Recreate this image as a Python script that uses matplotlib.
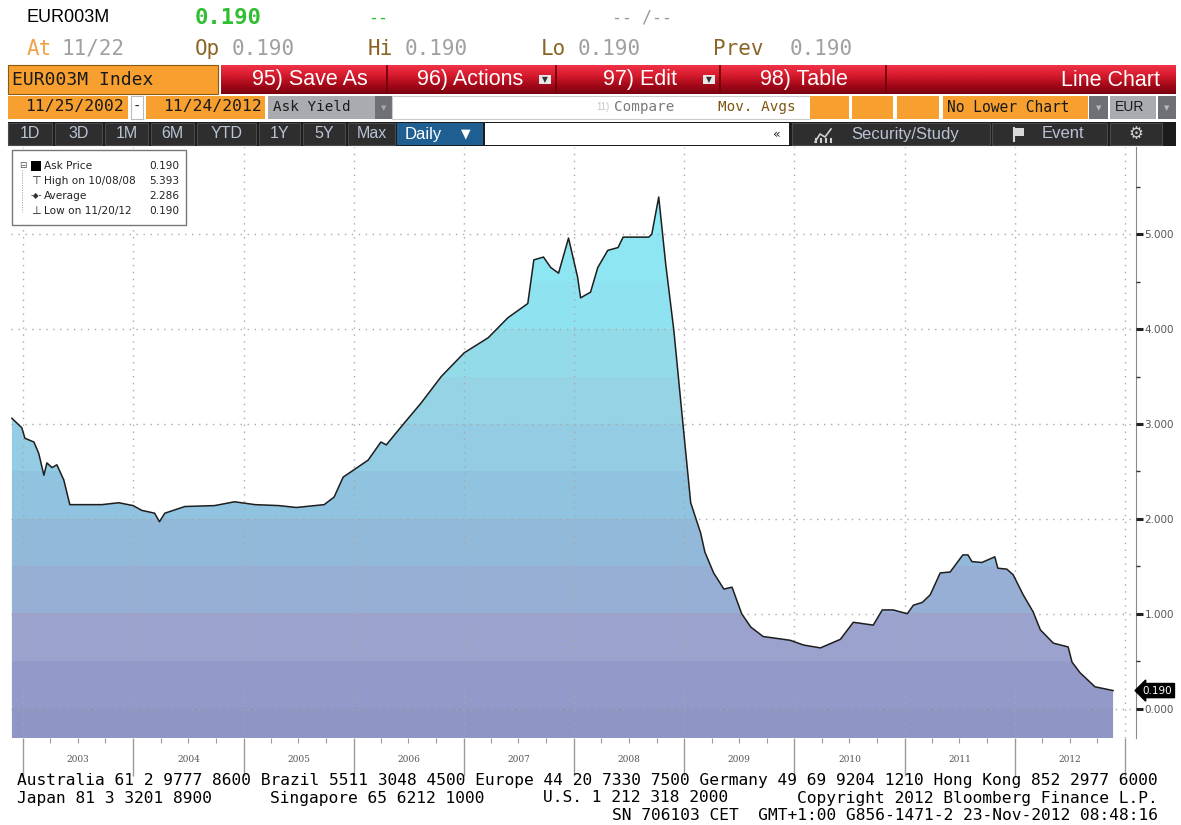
import numpy as np
import matplotlib.pyplot as plt
import matplotlib.dates as mdates
from matplotlib.patches import Rectangle
from matplotlib.colors import LinearSegmentedColormap
from matplotlib.ticker import MultipleLocator, FormatStrFormatter

# === DATOS ===
dates = [
    '2002-11-25', '2002-12-28', '2003-01-07', '2003-02-06', '2003-02-22', '2003-03-11',
    '2003-03-21', '2003-04-07', '2003-04-23', '2003-05-16', '2003-06-05', '2003-09-19',
    '2003-11-14', '2004-01-01', '2004-01-29', '2004-03-12', '2004-03-28', '2004-04-15',
    '2004-06-20', '2004-09-27', '2004-12-02', '2005-02-08', '2005-04-27', '2005-06-25',
    '2005-09-25', '2005-10-28', '2005-11-27', '2006-01-03', '2006-02-18', '2006-04-01',
    '2006-04-19', '2006-06-07', '2006-08-12', '2006-10-18', '2007-01-02', '2007-03-23',
    '2007-05-27', '2007-08-01', '2007-08-21', '2007-09-22', '2007-10-16', '2007-11-11',
    '2007-12-14', '2008-01-13', '2008-01-23', '2008-02-25', '2008-03-20', '2008-04-22',
    '2008-05-26', '2008-06-12', '2008-09-05', '2008-09-15', '2008-10-08', '2008-10-31',
    '2008-11-27', '2008-12-27', '2009-01-22', '2009-02-24', '2009-03-10', '2009-04-08',
    '2009-05-12', '2009-06-08', '2009-07-10', '2009-08-09', '2009-09-19', '2009-12-18',
    '2010-01-31', '2010-03-28', '2010-06-02', '2010-07-15', '2010-09-19', '2010-10-19',
    '2010-11-24', '2011-01-10', '2011-01-30', '2011-03-01', '2011-03-27', '2011-04-29',
    '2011-06-01', '2011-07-13', '2011-07-30', '2011-08-12', '2011-09-14', '2011-10-27',
    '2011-11-06', '2011-12-06', '2011-12-27', '2012-01-29', '2012-03-02', '2012-03-26',
    '2012-05-08', '2012-06-26', '2012-07-09', '2012-08-04', '2012-09-23', '2012-11-22',
]
ask_yield = [
    3.06, 2.96, 2.85, 2.81, 2.69, 2.46,
    2.59, 2.54, 2.57, 2.41, 2.15, 2.15,
    2.17, 2.14, 2.09, 2.06, 1.97, 2.06,
    2.13, 2.14, 2.18, 2.15, 2.14, 2.12,
    2.15, 2.23, 2.44, 2.52, 2.62, 2.81,
    2.78, 2.97, 3.22, 3.50, 3.75, 3.91,
    4.12, 4.27, 4.73, 4.76, 4.65, 4.59,
    4.96, 4.55, 4.33, 4.39, 4.65, 4.83,
    4.86, 4.97, 4.97, 5.00, 5.393, 4.69,
    3.99, 3.01, 2.17, 1.85, 1.65, 1.43,
    1.26, 1.28, 1.00, 0.86, 0.76, 0.72,
    0.67, 0.64, 0.73, 0.91, 0.88, 1.04,
    1.04, 1.00, 1.09, 1.12, 1.20, 1.43,
    1.44, 1.62, 1.62, 1.55, 1.54, 1.60,
    1.48, 1.47, 1.41, 1.20, 1.02, 0.83,
    0.69, 0.65, 0.49, 0.38, 0.23, 0.19,
]
years = [2003, 2004, 2005, 2006, 2007, 2008, 2009, 2010, 2011, 2012]
legend_names = ['Ask Price', 'High on 10/08/08', 'Average', 'Low on 11/20/12']
legend_values = ['0.190', '5.393', '2.286', '0.190']
last_value = 0.190

# === FIGURA ===
W, H = 1181, 825
fig = plt.figure(figsize=(W / 100, H / 100), dpi=100, facecolor='white')

# === GRÁFICO PRINCIPAL ===
ax = fig.add_axes([11 / W, 1 - 738 / H, (1136 - 11) / W, (738 - 147) / H], zorder=1)
xn = mdates.date2num(np.array(dates, dtype='datetime64[D]'))
x0 = mdates.date2num(np.datetime64('2002-11-22'))
x1 = mdates.date2num(np.datetime64('2013-02-06'))
y0, y1 = -0.31, 5.92

band_cmap = LinearSegmentedColormap.from_list('bbg', [
    (0.00, '#8f95c4'), (0.08, '#949ac9'), (0.15, '#9ba2cd'), (0.23, '#98aed5'),
    (0.31, '#93badb'), (0.38, '#8fc3df'), (0.46, '#93cce3'), (0.54, '#96d4e6'),
    (0.62, '#93dcea'), (0.69, '#90e3f0'), (0.77, '#8ee7f4'), (0.85, '#8cebf7'),
    (1.00, '#8aedf8')])
yy = np.linspace(y0, y1, 800)
bands = np.floor(yy / 0.5) * 0.5
img = ax.imshow(bands[:, None], extent=[x0, x1, y0, y1], origin='lower', aspect='auto',
                cmap=band_cmap, vmin=-0.5, vmax=6.0, interpolation='nearest', zorder=1)
poly = ax.fill_between(xn, ask_yield, y0 - 1, color='none', lw=0)
img.set_clip_path(poly.get_paths()[0], transform=ax.transData)
ax.plot(xn, ask_yield, color='#1e1e1e', lw=1.1, zorder=3)

ax.set_xlim(x0, x1)
ax.set_ylim(y0, y1)
ax.set_facecolor('white')
ax.grid(True, which='major', linestyle=(0, (1, 4)), color='#a8a8a8', lw=1)
ax.set_axisbelow(False)

ax.xaxis.set_major_locator(mdates.YearLocator())
ax.xaxis.set_minor_locator(mdates.MonthLocator(bymonth=[4, 7, 10]))
ax.tick_params(axis='x', which='major', direction='out', length=27, width=1,
               color='#9a9a9a', labelbottom=False)
ax.tick_params(axis='x', which='minor', direction='out', length=3.5, width=0.8, color='#9a9a9a')
for yr in years:
    ax.text(mdates.date2num(np.datetime64(f'{yr}-07-02')), -0.037, str(yr),
            transform=ax.get_xaxis_transform(), ha='center', va='center',
            fontsize=6.5, color='#555555', family='DejaVu Serif')

ax.yaxis.tick_right()
ax.yaxis.set_major_locator(MultipleLocator(1))
ax.yaxis.set_minor_locator(MultipleLocator(0.5))
ax.yaxis.set_major_formatter(FormatStrFormatter('%.3f'))
ax.tick_params(axis='y', which='major', direction='out', length=5, width=2.2,
               color='#222222', labelsize=7.5, labelcolor='#555555', pad=1)
ax.tick_params(axis='y', which='minor', direction='out', length=3, width=1, color='#333333')
for side in ['left', 'top', 'bottom']:
    ax.spines[side].set_visible(False)
ax.spines['right'].set_color('#8a8a8a')

ax.text(1.006, last_value, f'{last_value:.3f}', transform=ax.get_yaxis_transform(),
        ha='left', va='center', fontsize=7.5, color='white', zorder=6, clip_on=False,
        bbox=dict(boxstyle='larrow,pad=0.2', fc='black', ec='black'))

# === CABECERA / INTERFAZ (coordenadas en píxeles) ===
hdr = fig.add_axes([0, 0, 1, 1], zorder=5)
hdr.patch.set_visible(False)
hdr.axis('off')


def box(xa, ya, xb, yb, fc, ec='none', lw=0.8):
    hdr.add_patch(Rectangle((xa, ya), xb - xa, yb - ya, fc=fc, ec=ec, lw=lw))


def txt(x, y, s, size, color, ha='left', family='DejaVu Sans Mono', weight='normal'):
    hdr.text(x, y, s, fontsize=size, color=color, ha=ha, va='center',
             family=family, weight=weight)


sans = 'Liberation Sans'

# fila 1 y 2
txt(27, 18, 'EUR003M', 13, 'black', family=sans)
txt(195, 18, '0.190', 16, '#2fbe2f', weight='bold')
txt(368, 18, '--', 12, '#2fbe2f')
txt(612, 18, '-- /--', 12, '#999999')
txt(27, 49, 'At', 15, '#f0a24a')
txt(62, 49, '11/22', 15, '#a0a0a0')
txt(195, 49, 'Op', 15, '#8a6526')
txt(232, 49, '0.190', 15, '#a0a0a0')
txt(368, 49, 'Hi', 15, '#8a6526')
txt(405, 49, '0.190', 15, '#a0a0a0')
txt(541, 49, 'Lo', 15, '#8a6526')
txt(578, 49, '0.190', 15, '#a0a0a0')
txt(713, 49, 'Prev', 15, '#8a6526')
txt(790, 49, '0.190', 15, '#a0a0a0')

# fila 3: barra roja
box(8, 65, 218, 94, '#f7a030', ec='#8a5a10')
txt(12, 80, 'EUR003M Index', 13, '#1a1a1a')
grad = np.linspace(0, 1, 60)[:, None]
red_cmap = LinearSegmentedColormap.from_list('red', ['#f03246', '#d81c2e', '#a80a1a', '#7a0010'])
hdr.imshow(grad, extent=[221, 1176, 94, 65], origin='upper', aspect='auto', cmap=red_cmap, zorder=0)
for xs in [387, 556, 720, 886]:
    hdr.plot([xs, xs], [66, 93], color='#6a0008', lw=1.2)
txt(252, 79, '95) Save As', 15.5, 'white', family=sans)
txt(417, 79, '96) Actions', 15.5, 'white', family=sans)
txt(603, 79, '97) Edit', 15.5, 'white', family=sans)
txt(760, 79, '98) Table', 15.5, 'white', family=sans)
txt(1160, 80, 'Line Chart', 15.5, 'white', ha='right', family=sans)
for xd in [539, 703]:
    box(xd, 75, xd + 12, 84, '#e8e8e8')
    txt(xd + 6, 80, '▼', 5.5, '#333333', ha='center', family='DejaVu Sans')

# fila 4: fechas y opciones
box(8, 96, 128, 119, '#f7a030')
txt(25, 107, '11/25/2002', 11.8, '#1a1a1a')
box(131, 96, 143, 119, 'white', ec='#bbbbbb')
txt(137, 107, '-', 10, '#1a1a1a', ha='center')
box(146, 96, 265, 119, '#f7a030')
txt(163, 107, '11/24/2012', 11.8, '#1a1a1a')
box(268, 96, 375, 119, '#a9abb0')
txt(273, 107, 'Ask Yield', 10.3, '#1a1a1a')
box(375, 96, 392, 119, '#6e7075')
txt(383.5, 108, '▼', 5, '#aaaaaa', ha='center', family='DejaVu Sans')
box(392, 96, 810, 119, 'white', ec='#cccccc')
txt(596, 107, '11)', 7, '#c8c8c8', family=sans)
txt(614, 107, 'Compare', 10.3, '#7a7a7a')
txt(718, 107, 'Mov. Avgs', 10.3, '#7a5510')
for xa, xb in [(810, 849), (852, 893), (897, 939)]:
    box(xa, 96, xb, 119, '#f7a030')
box(943, 96, 1088, 119, '#f7a030')
txt(947, 107, 'No Lower Chart', 10.5, '#1a1a1a')
box(1089, 96, 1108, 119, '#6e7075')
txt(1098.5, 108, '▼', 5, '#bbbbbb', ha='center', family='DejaVu Sans')
box(1110, 96, 1156, 119, '#a9abb0')
txt(1115, 107, 'EUR', 10, '#1a1a1a', family=sans)
box(1158, 96, 1176, 119, '#6e7075')
txt(1167, 108, '▼', 5, '#bbbbbb', ha='center', family='DejaVu Sans')

# fila 5: botones
box(8, 122, 1176, 146, '#1c1c1c')
buttons = [('1D', 8, 52), ('3D', 55, 102), ('1M', 105, 148), ('6M', 151, 194),
           ('YTD', 197, 256), ('1Y', 259, 300), ('5Y', 303, 345), ('Max', 348, 395)]
for label, xa, xb in buttons:
    box(xa, 123, xb, 145, '#2e2e2e', ec='#4a4a4a')
    txt((xa + xb) / 2, 134, label, 11.5, '#b9c3d4', ha='center', family=sans)
box(397, 123, 483, 145, '#1f5f92')
txt(405, 134, 'Daily', 12, 'white', family=sans)
txt(466, 134, '▼', 9, 'white', ha='center', family='DejaVu Sans')
box(485, 123, 789, 145, 'white')
txt(777, 134, '«', 9, '#222222', ha='center', family='DejaVu Sans')
box(792, 123, 990, 145, '#2e2e2e', ec='#4a4a4a')
hdr.plot([815, 820, 825, 831], [142, 134, 137, 129], color='#d0d0d0', lw=1.2)
for xb_ in [816, 821, 826, 831]:
    hdr.plot([xb_, xb_], [142, 139], color='#d0d0d0', lw=1.5)
txt(851, 134, 'Security/Study', 12, '#b9c3d4', family=sans)
box(992, 123, 1107, 145, '#2e2e2e', ec='#4a4a4a')
box(1014, 128, 1024, 136, '#d8d8d8')
hdr.plot([1014, 1014], [128, 141], color='#d8d8d8', lw=1.5)
txt(1042, 134, 'Event', 12, '#b9c3d4', family=sans)
box(1110, 123, 1162, 145, '#2e2e2e', ec='#4a4a4a')
txt(1136, 134, '⚙', 12, '#d0d0d0', ha='center', family='DejaVu Sans')

# leyenda
box(12, 150, 186, 225, 'white', ec='#777777', lw=1)
leg_y = [166, 181, 196, 211]
for name, val, yl in zip(legend_names, legend_values, leg_y):
    txt(44, yl, name, 7.6, '#222222', family='DejaVu Sans')
    txt(179, yl, val, 7.6, '#222222', ha='right', family='DejaVu Sans')
box(31, 161, 41, 171, 'black')
txt(23, 165, '⊟', 6.5, '#555555', ha='center', family='DejaVu Sans')
hdr.plot([22, 22], [170, 212], color='#999999', lw=0.7, ls=(0, (1, 1.5)))
txt(36, 181, '⊤', 8, '#222222', ha='center', family='DejaVu Sans')
txt(36, 196, '-◆-', 5.5, '#333333', ha='center', family='DejaVu Sans')
txt(36, 211, '⊥', 8, '#222222', ha='center', family='DejaVu Sans')

# pie de página
foot = 11.7
txt(17, 781, 'Australia 61 2 9777 8600 Brazil 5511 3048 4500 Europe 44 20 7330 7500 '
             'Germany 49 69 9204 1210 Hong Kong 852 2977 6000', foot, 'black')
txt(17, 798, 'Japan 81 3 3201 8900', foot, 'black')
txt(270, 798, 'Singapore 65 6212 1000', foot, 'black')
txt(543, 798, 'U.S. 1 212 318 2000', foot, 'black')
txt(1158, 798, 'Copyright 2012 Bloomberg Finance L.P.', foot, 'black', ha='right')
txt(1158, 815, 'SN 706103 CET  GMT+1:00 G856-1471-2 23-Nov-2012 08:48:16', foot, 'black', ha='right')

hdr.set_xlim(0, W)
hdr.set_ylim(H, 0)

fig.savefig('out.png', dpi=100, facecolor='white')
